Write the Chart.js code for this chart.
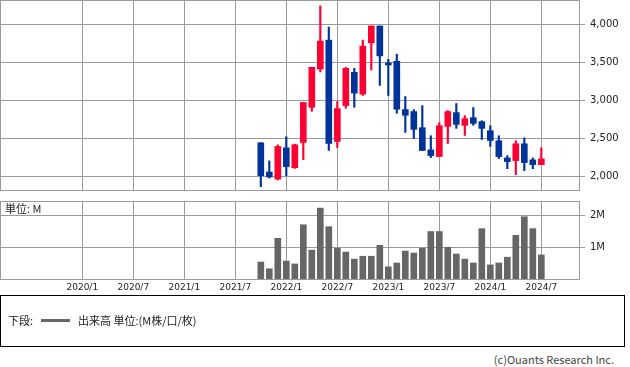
<!DOCTYPE html>
<html>
<head>
<meta charset="utf-8">
<script src="https://cdn.jsdelivr.net/npm/chart.js@4"></script>
<style>
  body { margin: 0; width: 630px; height: 367px; background: #fff; position: relative; overflow: hidden; font-family: "Noto Sans CJK JP", sans-serif; }
  canvas { position: absolute; left: 0; }
  #priceChart { top: 0; }
  #volChart { top: 201px; }
  #unit { position: absolute; left: 5px; top: 201px; font-size: 11px; color: #222; line-height: 14px; }
  #legend { position: absolute; left: 0; top: 295px; width: 623px; height: 50px; border: 1px solid #000; font-size: 11px; color: #222; }
  #legend .t { position: absolute; top: 16px; line-height: 16px; }
  #legend .line { position: absolute; left: 40px; top: 23px; width: 29px; height: 3px; background: #666; }
  #copy { position: absolute; right: 16px; top: 351px; font-size: 11px; color: #444; line-height: 16px; }
</style>
</head>
<body>
<canvas id="priceChart" width="630" height="191"></canvas>
<canvas id="volChart" width="630" height="95"></canvas>
<div id="unit">単位: M</div>
<div id="legend">
  <span class="t" style="left:7px">下段:</span>
  <div class="line"></div>
  <span class="t" style="left:77px">出来高 単位:(M株/口/枚)</span>
</div>
<div id="copy">(c)Ouants Research Inc.</div>
<script>
// 月足データ（2021/10 - 2024/7）
const months = ['2021/10','2021/11','2021/12','2022/1','2022/2','2022/3','2022/4','2022/5','2022/6','2022/7','2022/8','2022/9','2022/10','2022/11','2022/12',
  '2023/1','2023/2','2023/3','2023/4','2023/5','2023/6','2023/7','2023/8','2023/9','2023/10','2023/11','2023/12',
  '2024/1','2024/2','2024/3','2024/4','2024/5','2024/6','2024/7'];
const opens  = [2437,2053,1960,2371,2110,2442,2905,3408,3788,2455,2927,3364,3077,3753,3974,3488,3510,2874,2848,2636,2344,2256,2653,2834,2667,2768,2715,2596,2464,2238,2203,2424,2212,2150];
const highs  = [2440,2199,2411,2517,2420,2967,3430,4238,3960,2980,3430,3417,3788,3974,3974,3536,3603,3046,2874,2927,2530,2702,2861,2954,2795,2901,2728,2662,2530,2269,2464,2503,2238,2371];
const lows   = [1859,1974,1947,2004,2100,2216,2852,3369,2336,2375,2892,2905,3060,3395,3192,3060,2826,2574,2494,2336,2243,2256,2428,2627,2534,2667,2481,2389,2230,2097,2018,2071,2097,2150];
const closes = [2004,1987,2389,2124,2411,2967,3430,3775,2428,2887,3417,3091,3709,3974,3581,3461,2879,2799,2614,2336,2269,2662,2848,2680,2755,2693,2627,2468,2256,2190,2424,2177,2150,2225];
const volumes = [0.56,0.35,1.30,0.59,0.50,1.72,0.93,2.24,1.66,0.99,0.87,0.65,0.74,0.74,1.08,0.41,0.53,0.90,0.84,0.99,1.51,1.51,1.02,0.81,0.65,0.53,1.60,0.47,0.53,0.71,1.39,1.97,1.60,0.78];
const priceTicks = [2000, 2500, 3000, 3500, 4000];
const volTicks = [1, 2];
const dateTicks = ['2020/1','2020/7','2021/1','2021/7','2022/1','2022/7','2023/1','2023/7','2024/1','2024/7'];

const UP = '#ff0033', DOWN = '#003399', GRID = '#9a9a9a';

// "2022/1" -> 2020/1 からの月数
function monthIndex(s) {
    const [y, m] = s.split('/').map(Number);
    return (y - 2020) * 12 + (m - 1);
}
function monthLabel(v) {
    return (2020 + Math.floor(v / 12)) + '/' + (v % 12 + 1);
}

const xs = months.map(monthIndex);
const colors = opens.map((o, i) => closes[i] >= o ? UP : DOWN);
const X_MIN = -9.68, X_MAX = 58.55;

// 枠線
const frame = {
    id: 'frame',
    afterDraw(chart) {
        const a = chart.chartArea, c = chart.ctx;
        c.save();
        c.strokeStyle = GRID;
        c.lineWidth = 1;
        c.strokeRect(Math.round(a.left) + 0.5, Math.round(a.top) + 0.5, Math.round(a.right - a.left) - 1, Math.round(a.bottom - a.top) - 1);
        c.restore();
    }
};

function xScale(showLabels) {
    return {
        type: 'linear', min: X_MIN, max: X_MAX, offset: false,
        afterBuildTicks: s => { s.ticks = dateTicks.map(d => ({ value: monthIndex(d) })); },
        ticks: { display: showLabels, callback: v => monthLabel(v), maxRotation: 0, autoSkip: false, padding: 2,
                 color: '#222', font: { family: 'DejaVu Sans', size: 9 } },
        grid: { color: GRID, drawTicks: false, offset: false },
        border: { display: false },
        afterFit: s => { s.height = showLabels ? 16 : 0; s.paddingLeft = 0; s.paddingRight = 0; }
    };
}

function yScale(min, max, tickVals, fmt) {
    return {
        position: 'right', min: min, max: max,
        afterBuildTicks: s => { s.ticks = tickVals.map(v => ({ value: v })); },
        ticks: { callback: fmt, padding: 5, color: '#222', font: { family: 'DejaVu Sans', size: 10 } },
        grid: { color: GRID, tickLength: 5 },
        border: { display: false },
        afterFit: s => { s.width = 50; s.paddingTop = 0; s.paddingBottom = 0; }
    };
}

const baseOpts = {
    responsive: false, animation: false,
    layout: { padding: 0 },
    plugins: { legend: { display: false }, tooltip: { enabled: false } }
};

new Chart(document.getElementById('priceChart'), {
    type: 'bar',
    data: {
        datasets: [
            { data: xs.map((x, i) => ({ x: x, y: [opens[i], closes[i]] })), backgroundColor: colors,
              barThickness: 6, minBarLength: 2, grouped: false, order: 0 },
            { data: xs.map((x, i) => ({ x: x, y: [lows[i], highs[i]] })), backgroundColor: colors,
              barThickness: 1.5, grouped: false, order: 1 }
        ]
    },
    options: Object.assign({}, baseOpts, {
        scales: {
            x: xScale(false),
            y: yScale(1803, 4316, priceTicks, v => v.toLocaleString('en-US'))
        }
    }),
    plugins: [frame]
});

new Chart(document.getElementById('volChart'), {
    type: 'bar',
    data: {
        datasets: [
            { data: xs.map((x, i) => ({ x: x, y: volumes[i] })), backgroundColor: '#666666', barThickness: 6, grouped: false }
        ]
    },
    options: Object.assign({}, baseOpts, {
        scales: {
            x: xScale(true),
            y: yScale(0, 2.46, volTicks, v => v + 'M')
        }
    }),
    plugins: [frame]
});
</script>
</body>
</html>
